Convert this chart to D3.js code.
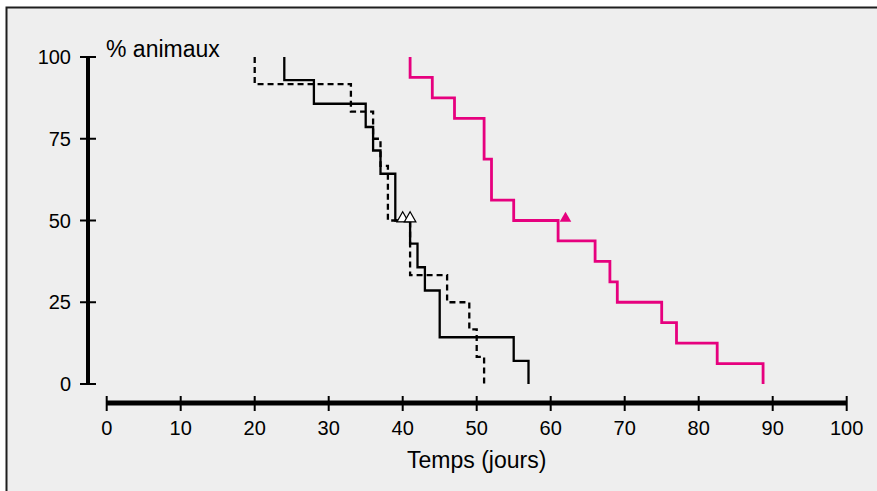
<!DOCTYPE html>
<html lang="fr">
<head>
<meta charset="utf-8" />
<title>Survie des animaux</title>
<style>
  html, body { margin: 0; padding: 0; background: #fff; }
  svg { display: block; font-family: "Liberation Sans", Arial, sans-serif; }
  .grp { fill: none; stroke-linejoin: miter; stroke-linecap: butt; }
</style>
</head>
<body>
<svg id="chart" width="877" height="491"></svg>
<script src="https://d3js.org/d3.v7.min.js"></script>
<script>
  // axes
  const xTicks = [0, 10, 20, 30, 40, 50, 60, 70, 80, 90, 100];
  const yTicks = [0, 25, 50, 75, 100];

  // courbe noire continue
  const solidTimes = [24, 28, 35, 36, 37, 39, 41, 42, 43, 45, 55, 57];
  const solidSurv = [92.9, 85.7, 78.6, 71.4, 64.3, 50, 42.9, 35.7, 28.6, 14.3, 7.1, 0];

  // courbe noire pointillée
  const dashTimes = [20, 33, 36, 37, 38, 41, 46, 49, 50, 51];
  const dashSurv = [91.7, 83.3, 75, 66.7, 50, 33.3, 25, 16.7, 8.3, 0];

  // courbe rose
  const pinkTimes = [41, 44, 47, 51, 52, 55, 61, 66, 68, 69, 75, 77, 82.5, 88.7];
  const pinkSurv = [93.75, 87.5, 81.25, 68.75, 56.25, 50, 43.75, 37.5, 31.25, 25, 18.75, 12.5, 6.25, 0];

  // médianes (triangles)
  const openMedians = [40, 41];
  const pinkMedian = [62];

  const pink = "#e6007e";

  const svg = d3.select("#chart");

  // cadre
  svg.append("rect")
    .attr("x", 6.5).attr("y", 7.5)
    .attr("width", 900).attr("height", 600)
    .attr("fill", "#eeeeee")
    .attr("stroke", "#1e1e1e")
    .attr("stroke-width", 2);

  const x = d3.scaleLinear().domain([0, 100]).range([106.7, 846.7]);
  const y = d3.scaleLinear().domain([0, 100]).range([384, 57]);

  // axe Y
  const yAxis = svg.append("g");
  yAxis.append("line")
    .attr("x1", 88).attr("x2", 88)
    .attr("y1", y(100)).attr("y2", y(0) + 1)
    .attr("stroke", "#000").attr("stroke-width", 4);
  yAxis.selectAll(".yt").data(yTicks).enter().append("line")
    .attr("x1", 80).attr("x2", 96)
    .attr("y1", d => y(d)).attr("y2", d => y(d))
    .attr("stroke", "#000").attr("stroke-width", 2);
  yAxis.selectAll("text").data(yTicks).enter().append("text")
    .attr("x", 71).attr("y", d => y(d))
    .attr("dy", "0.36em")
    .attr("text-anchor", "end")
    .attr("font-size", 20)
    .text(d => d);

  svg.append("text")
    .attr("x", 106).attr("y", 57)
    .attr("font-size", 23)
    .text("% animaux");

  // axe X
  const xAxis = svg.append("g");
  xAxis.append("line")
    .attr("x1", x(0)).attr("x2", x(100))
    .attr("y1", 403).attr("y2", 403)
    .attr("stroke", "#000").attr("stroke-width", 5);
  xAxis.selectAll(".xt").data(xTicks).enter().append("line")
    .attr("x1", d => x(d)).attr("x2", d => x(d))
    .attr("y1", 396).attr("y2", 411)
    .attr("stroke", "#000").attr("stroke-width", 2);
  xAxis.selectAll("text").data(xTicks).enter().append("text")
    .attr("x", d => x(d)).attr("y", 435)
    .attr("text-anchor", "middle")
    .attr("font-size", 20)
    .text(d => d);

  svg.append("text")
    .attr("x", x(50)).attr("y", 468)
    .attr("text-anchor", "middle")
    .attr("font-size", 23)
    .text("Temps (jours)");

  // courbes de survie
  const line = d3.line()
    .x(d => x(d[0]))
    .y(d => y(d[1]))
    .curve(d3.curveStepAfter);

  function steps(times, surv) {
    return [[times[0], 100]].concat(times.map((t, i) => [t, surv[i]]));
  }

  svg.append("path")
    .attr("class", "grp")
    .attr("d", line(steps(dashTimes, dashSurv)))
    .attr("stroke", "#000").attr("stroke-width", 2.3)
    .attr("stroke-dasharray", "6,4");

  svg.append("path")
    .attr("class", "grp")
    .attr("d", line(steps(solidTimes, solidSurv)))
    .attr("stroke", "#000").attr("stroke-width", 2.3);

  svg.append("path")
    .attr("class", "grp")
    .attr("d", line(steps(pinkTimes, pinkSurv)))
    .attr("stroke", pink).attr("stroke-width", 2.8);

  const tri = d3.symbol().type(d3.symbolTriangle).size(58);

  svg.selectAll(".open").data(openMedians).enter().append("path")
    .attr("d", tri)
    .attr("transform", d => `translate(${x(d)},${y(50) - 2})`)
    .attr("fill", "#fff").attr("stroke", "#000").attr("stroke-width", 1.2);

  svg.selectAll(".full").data(pinkMedian).enter().append("path")
    .attr("d", tri)
    .attr("transform", d => `translate(${x(d)},${y(50) - 2})`)
    .attr("fill", pink);
</script>
</body>
</html>
